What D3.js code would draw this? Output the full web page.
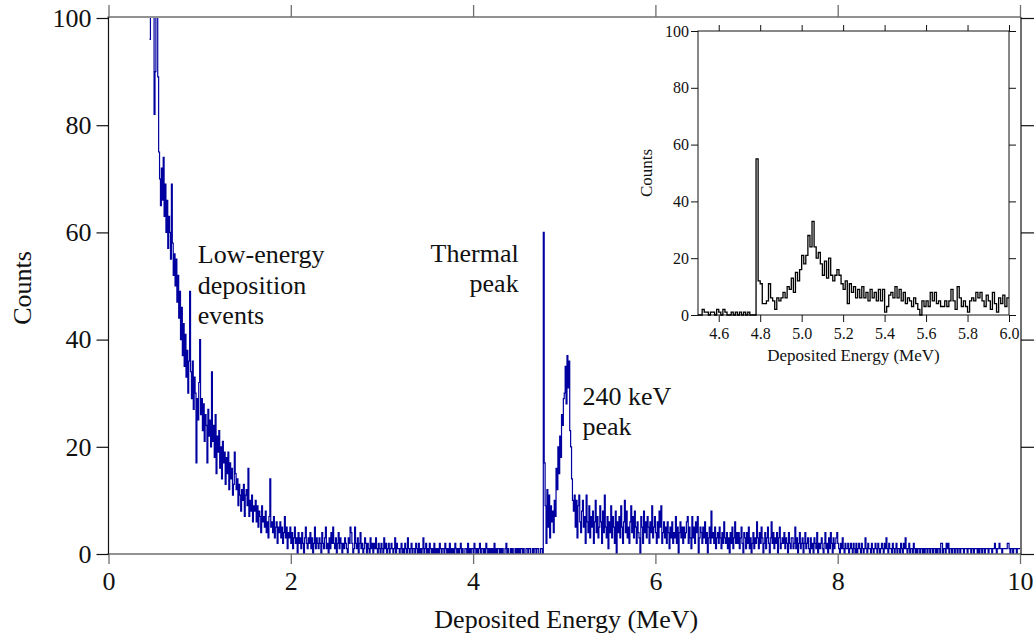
<!DOCTYPE html>
<html>
<head>
<meta charset="utf-8">
<script src="https://cdn.jsdelivr.net/npm/d3@7"></script>
<style>
  body { margin: 0; background: #fff; }
  svg { display: block; }
</style>
</head>
<body>
<svg id="chart" width="1034" height="638" font-family="'Liberation Serif', 'Times New Roman', serif"></svg>
<script>
// ---- Spectrum data: counts per 0.01 MeV bin ----
const binWidth = 0.01;
const mainStart = 0.45;   // first bin of the full spectrum (MeV)

// 0.45 – 1.99 MeV
const lowEnergyCounts = [
  96,108,115,104,110,
  82,90,106,101,89,75,70,65,72,66,
  74,63,69,60,66,57,63,60,55,69,
  58,52,56,50,55,47,52,44,49,40,
  46,37,43,35,41,33,38,30,36,49,
  34,29,36,27,33,30,17,29,25,32,
  40,26,29,23,28,21,26,24,17,27,
  22,25,20,34,21,24,18,26,15,22,
  19,23,16,20,14,21,17,19,13,18,
  15,19,12,17,14,16,11,13,19,15,
  12,14,9,13,11,8,12,10,13,7,
  11,12,9,16,7,10,8,11,6,9,
  8,10,6,9,5,8,7,4,9,6,
  7,5,8,4,6,3,7,14,5,6,
  4,7,3,5,6,2,5,4,6,3,
  5,2,4,7,3,5,1,4,3,5
];
// 2.00 – 4.76 MeV
const midEnergyCounts = [
  2,4,1,3,5,2,3,0,4,2,
  3,1,4,2,0,3,5,2,1,3,
  2,4,1,3,0,2,5,1,3,2,
  1,3,2,0,4,2,1,3,5,1,
  2,0,3,1,4,2,5,2,1,3,
  0,2,4,1,3,2,0,2,1,3,
  2,1,0,3,2,5,4,2,0,1,
  5,2,1,3,0,2,4,1,2,0,
  1,3,2,0,2,1,0,3,1,2,
  0,2,1,3,1,0,2,1,0,2,
  1,0,3,1,2,0,1,2,0,1,
  2,1,0,1,3,0,2,1,1,0,
  1,2,0,1,0,2,1,0,3,1,
  0,1,2,0,1,1,0,2,1,0,
  2,0,1,0,1,3,0,1,2,0,
  1,0,2,1,0,1,0,2,0,1,
  0,1,0,2,1,0,1,1,0,2,
  1,0,1,0,2,0,1,0,1,0,
  2,1,0,1,0,1,2,0,1,0,
  0,1,1,0,2,0,1,0,1,1,
  0,2,1,0,1,0,1,2,0,1,
  1,0,1,0,2,1,0,1,0,1,
  0,1,0,2,0,1,0,1,1,0,
  1,0,1,0,0,1,2,0,1,0,
  0,1,0,1,0,0,1,0,1,0,
  1,0,1,1,0,1,0,0,1,1,
  0,1,1,0,0,1,0,1,1,0,
  1,1,0,0,1,1,0
];
// 4.77 MeV – thermal neutron capture peak
const thermalCounts = [60];
// 4.78 – 5.29 MeV
const peakCounts = [
  17,9,
  2,12,5,11,3,9,6,8,4,10,
  7,16,12,20,15,22,18,26,24,29,
  30,35,28,37,31,36,23,20,14,10,
  8,11,5,10,3,9,11,6,4,8,
  10,5,7,2,11,6,4,9,3,7
];
// 5.30 – 9.99 MeV
const tailCounts = [
  5,8,2,6,10,4,7,3,5,9,
  6,2,8,4,11,5,3,7,1,6,
  4,9,3,7,5,2,8,0,6,4,
  7,3,9,5,2,6,10,4,8,3,
  5,2,6,9,4,7,3,8,5,2,
  6,4,3,0,7,5,2,8,4,6,
  3,7,5,2,6,4,9,3,5,7,
  4,2,6,3,8,5,9,2,4,6,
  3,5,2,6,4,1,5,3,6,2,
  4,3,7,2,5,0,4,6,3,5,
  2,5,3,4,6,7,2,5,3,1,
  7,3,5,2,6,4,7,0,3,5,
  4,2,5,3,6,2,4,0,3,5,
  2,8,3,4,2,5,1,3,4,2,
  5,3,1,4,2,6,3,2,4,1,
  3,0,4,2,5,1,3,6,2,4,
  2,4,1,3,5,2,0,4,3,1,
  4,2,5,1,3,0,2,4,1,3,
  2,6,3,1,4,2,5,3,0,2,
  4,1,3,5,2,0,3,6,2,4,
  1,3,2,4,0,3,5,1,2,3,
  2,4,1,3,2,0,4,2,1,3,
  3,1,2,5,1,3,0,2,4,1,
  2,3,0,2,4,1,2,3,1,0,
  3,1,2,0,3,2,1,4,0,2,
  1,2,3,1,0,2,4,1,2,0,
  3,1,4,2,0,3,1,2,3,4,
  2,1,0,2,1,3,1,0,2,1,
  1,2,0,1,2,1,0,2,1,0,
  2,0,1,2,1,0,2,1,0,1,
  3,1,0,2,1,1,0,2,1,0,
  1,2,1,0,2,1,0,1,2,1,
  0,2,1,3,1,0,2,1,1,0,
  2,1,0,1,2,0,1,1,0,2,
  1,0,2,1,3,1,0,1,2,0,
  1,1,0,2,1,0,1,0,1,1,
  0,1,1,0,1,0,1,1,0,1,
  1,0,1,1,0,1,1,0,1,0,
  1,1,0,2,2,0,1,1,0,2,
  1,2,0,1,1,0,1,1,0,1,
  1,0,1,1,0,1,1,1,0,1,
  1,1,0,1,1,1,0,1,1,0,
  1,1,1,0,1,0,1,1,0,1,
  1,0,1,1,1,0,1,1,1,0,
  1,1,2,1,0,1,1,2,1,1,
  0,1,1,1,1,1,2,2,1,0,
  1,1,0,1,1,1,0,1,1,1
];

// Inset: 4.50 – 5.99 MeV, 0.01 MeV bins
const insetStart = 4.5;
const insetCounts = [
  0,0,2,1,1,0,1,1,0,2,
  1,0,2,1,0,0,1,0,1,0,
  1,0,1,0,1,0,0,0,55,12,
  11,4,4,5,11,6,5,2,6,5,
  6,8,6,10,9,13,8,15,12,16,
  21,18,21,28,24,33,24,20,22,18,
  14,19,13,20,14,12,14,16,14,11,
  9,12,4,11,8,10,6,9,6,10,
  6,8,5,9,6,8,5,9,5,9,
  1,3,7,8,6,10,6,9,5,8,
  4,6,5,3,6,4,2,0,5,3,
  5,3,8,5,8,4,5,3,3,5,
  3,5,9,5,2,10,6,3,5,3,
  1,5,6,5,8,6,8,5,3,7,
  5,2,8,4,1,6,4,7,3,6
];

// Axis ticks and labels
const mainXTicks = [0, 2, 4, 6, 8, 10];
const mainYTicks = [0, 20, 40, 60, 80, 100];
const insetXTicks = [4.6, 4.8, 5.0, 5.2, 5.4, 5.6, 5.8, 6.0];
const insetYTicks = [0, 20, 40, 60, 80, 100];
const xTitle = "Deposited Energy (MeV)";
const yTitle = "Counts";

const annotations = [
  { lines: ["Low-energy", "deposition", "events"], x: 0.98, y: 54.2, anchor: "start" },
  { lines: ["Thermal", "peak"], x: 4.5, y: 54.5, anchor: "end" },
  { lines: ["240 keV", "peak"], x: 5.2, y: 27.8, anchor: "start" }
];

// ---- Build ----
const svg = d3.select("#chart");
const M = { left: 108.5, right: 1020, top: 18, bottom: 554 };
const I = { left: 698, right: 1009, top: 31, bottom: 315 };

const x = d3.scaleLinear().domain([0, 10]).range([M.left, M.right]);
const y = d3.scaleLinear().domain([0, 100]).range([M.bottom, M.top]);
const xi = d3.scaleLinear().domain([4.5, 6.0]).range([I.left, I.right]);
const yi = d3.scaleLinear().domain([0, 100]).range([I.bottom, I.top]);

function toSteps(start, counts) {
  const pts = counts.map((c, i) => [start + i * binWidth, c]);
  pts.push([start + counts.length * binWidth, counts[counts.length - 1]]);
  return pts;
}

const mainCounts = [].concat(lowEnergyCounts, midEnergyCounts, thermalCounts, peakCounts, tailCounts);

svg.append("clipPath").attr("id", "mainClip")
  .append("rect")
  .attr("x", M.left).attr("y", M.top)
  .attr("width", M.right - M.left).attr("height", M.bottom - M.top);

// main spectrum
svg.append("path")
  .datum(toSteps(mainStart, mainCounts))
  .attr("clip-path", "url(#mainClip)")
  .attr("fill", "none")
  .attr("stroke", "#0000a0")
  .attr("stroke-width", 1.2)
  .attr("d", d3.line().x(d => x(d[0])).y(d => y(d[1])).curve(d3.curveStepAfter));

// main axes
const fontMain = 26;
const gB = svg.append("g").attr("transform", `translate(0,${M.bottom})`)
  .call(d3.axisBottom(x).tickValues(mainXTicks).tickFormat(d3.format("d")).tickSize(10).tickSizeOuter(0).tickPadding(8));
const gT = svg.append("g").attr("transform", `translate(0,${M.top - 1})`)
  .call(d3.axisTop(x).tickValues(mainXTicks).tickFormat("").tickSize(12).tickSizeOuter(0));
const gL = svg.append("g").attr("transform", `translate(${M.left},0)`)
  .call(d3.axisLeft(y).tickValues(mainYTicks).tickFormat(d3.format("d")).tickSize(12).tickSizeOuter(0).tickPadding(5));
const gR = svg.append("g").attr("transform", `translate(${M.right + 1},0)`)
  .call(d3.axisRight(y).tickValues(mainYTicks).tickFormat("").tickSize(13).tickSizeOuter(0));

[gB, gT].forEach(g => {
  g.selectAll("path.domain").attr("stroke", "#6e6e6e").attr("stroke-width", 1.3)
    .attr("d", `M${M.left - 1},0H${M.right + 1}`);
  g.selectAll(".tick line").attr("stroke", "#6e6e6e").attr("stroke-width", 1.3);
});
[gL, gR].forEach(g => {
  g.selectAll("path.domain").attr("stroke", "#111").attr("stroke-width", 1.2)
    .attr("d", `M0,${M.bottom}V${M.top - 1}`);
  g.selectAll(".tick line").attr("stroke", "#111").attr("stroke-width", 1.2);
});
[gB, gT, gL, gR].forEach(g => g.attr("font-family", null).attr("font-size", fontMain));
svg.selectAll("g text").attr("fill", "#111");

svg.append("text")
  .attr("x", (M.left + M.right) / 2 + 2).attr("y", 628)
  .attr("text-anchor", "middle").attr("font-size", fontMain).attr("fill", "#111")
  .text(xTitle);
svg.append("text")
  .attr("transform", `translate(31,${(M.top + M.bottom) / 2 + 2}) rotate(-90)`)
  .attr("text-anchor", "middle").attr("font-size", fontMain).attr("fill", "#111")
  .text(yTitle);

// annotations
annotations.forEach(a => {
  const t = svg.append("text")
    .attr("x", x(a.x)).attr("y", y(a.y))
    .attr("text-anchor", a.anchor).attr("font-size", fontMain).attr("fill", "#111");
  a.lines.forEach((s, i) => {
    t.append("tspan").attr("x", x(a.x)).attr("dy", i === 0 ? 0 : 30.5).text(s);
  });
});

// ---- inset ----
const inset = svg.append("g");
inset.append("rect")
  .attr("x", I.left).attr("y", I.top)
  .attr("width", I.right - I.left).attr("height", I.bottom - I.top)
  .attr("fill", "#fff").attr("stroke", "#111").attr("stroke-width", 1);

inset.append("path")
  .datum(toSteps(insetStart, insetCounts))
  .attr("fill", "none")
  .attr("stroke", "#000")
  .attr("stroke-width", 1.3)
  .attr("d", d3.line().x(d => xi(d[0])).y(d => yi(d[1])).curve(d3.curveStepAfter));

const fontInset = 16;
const iB = inset.append("g").attr("transform", `translate(0,${I.bottom})`)
  .call(d3.axisBottom(xi).tickValues(insetXTicks).tickFormat(d3.format(".1f")).tickSize(7).tickSizeOuter(0).tickPadding(6));
const iT = inset.append("g").attr("transform", `translate(0,${I.top})`)
  .call(d3.axisTop(xi).tickValues(insetXTicks).tickFormat("").tickSize(6).tickSizeOuter(0));
const iL = inset.append("g").attr("transform", `translate(${I.left},0)`)
  .call(d3.axisLeft(yi).tickValues(insetYTicks).tickFormat(d3.format("d")).tickSize(7).tickSizeOuter(0).tickPadding(2));
const iR = inset.append("g").attr("transform", `translate(${I.right},0)`)
  .call(d3.axisRight(yi).tickValues(insetYTicks).tickFormat("").tickSize(7).tickSizeOuter(0));
[iB, iT, iL, iR].forEach(g => {
  g.attr("font-family", null).attr("font-size", fontInset);
  g.select("path.domain").remove();
  g.selectAll(".tick line").attr("stroke", "#111").attr("stroke-width", 1);
  g.selectAll("text").attr("fill", "#111");
});

inset.append("text")
  .attr("x", (I.left + I.right) / 2).attr("y", 361)
  .attr("text-anchor", "middle").attr("font-size", 17).attr("fill", "#111")
  .text(xTitle);
inset.append("text")
  .attr("transform", `translate(652,${(I.top + I.bottom) / 2}) rotate(-90)`)
  .attr("text-anchor", "middle").attr("font-size", 17).attr("fill", "#111")
  .text(yTitle);
</script>
</body>
</html>
